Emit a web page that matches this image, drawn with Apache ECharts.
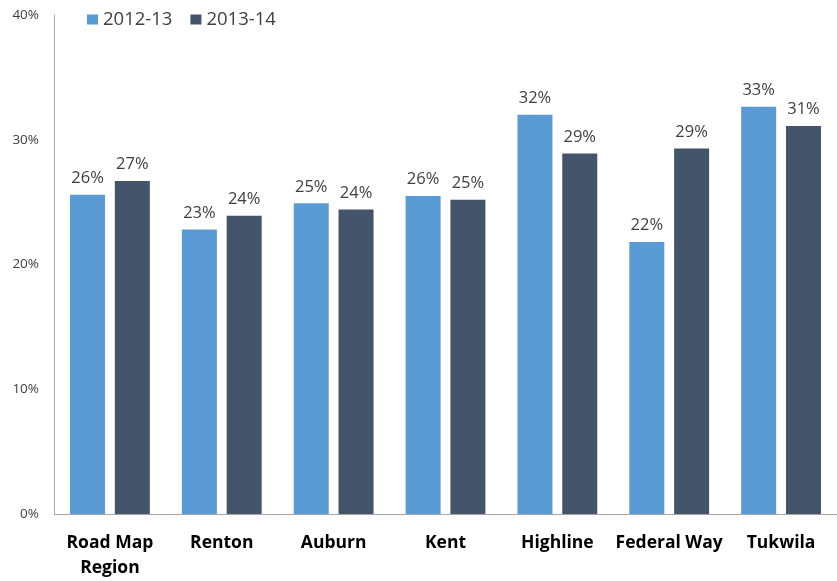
<!DOCTYPE html>
<html><head><meta charset="utf-8">
<script src="https://cdn.jsdelivr.net/npm/echarts@6/dist/echarts.min.js"></script>
<style>html,body{margin:0;padding:0;background:#fff}#c{width:837px;height:581px}</style>
</head><body><div id="c"></div>
<script>
const categories = ['Road Map\nRegion', 'Renton', 'Auburn', 'Kent', 'Highline', 'Federal Way', 'Tukwila'];
const seriesNames = ['2012-13', '2013-14'];
const values2012 = [25.6, 22.8, 24.9, 25.5, 32.0, 21.8, 32.65];
const values2013 = [26.7, 23.9, 24.4, 25.2, 28.9, 29.3, 31.1];
const yTicks = [0, 10, 20, 30, 40];

const font = '"Open Sans", "Liberation Sans", sans-serif';
const chart = echarts.init(document.getElementById('c'), null, {renderer: 'canvas'});
const lbl = {show: true, position: 'top', distance: 8, color: '#404040', fontSize: 16.5, fontFamily: font,
  formatter: p => Math.round(p.value) + '%'};
chart.setOption({
  animation: false,
  grid: {left: 54, right: -9, top: 15, bottom: 65},
  legend: {
    data: seriesNames, left: 82, top: 5, itemWidth: 11, itemHeight: 10, itemGap: 18,
    icon: 'rect', textStyle: {fontSize: 18.5, color: '#404040', fontFamily: font}
  },
  xAxis: {
    type: 'category', data: categories,
    axisLine: {lineStyle: {color: '#a6a6a6', width: 1}},
    axisTick: {show: false},
    axisLabel: {color: '#000', fontSize: 17.5, fontWeight: 'bold', fontFamily: font, margin: 17, lineHeight: 25, interval: 0}
  },
  yAxis: {
    type: 'value', min: 0, max: 40, interval: 10,
    axisLine: {show: true, lineStyle: {color: '#a6a6a6', width: 1}},
    axisTick: {show: false},
    splitLine: {show: false},
    axisLabel: {color: '#404040', fontSize: 13.5, fontFamily: font, margin: 15,
      formatter: v => yTicks.includes(v) ? v + '%' : ''}
  },
  series: [
    {name: seriesNames[0], type: 'bar', data: values2012, barWidth: 35, barGap: '28%',
     itemStyle: {color: '#5B9BD5'}, label: lbl},
    {name: seriesNames[1], type: 'bar', data: values2013, barWidth: 35, barGap: '28%',
     itemStyle: {color: '#44546A'}, label: lbl}
  ]
});
</script></body></html>
